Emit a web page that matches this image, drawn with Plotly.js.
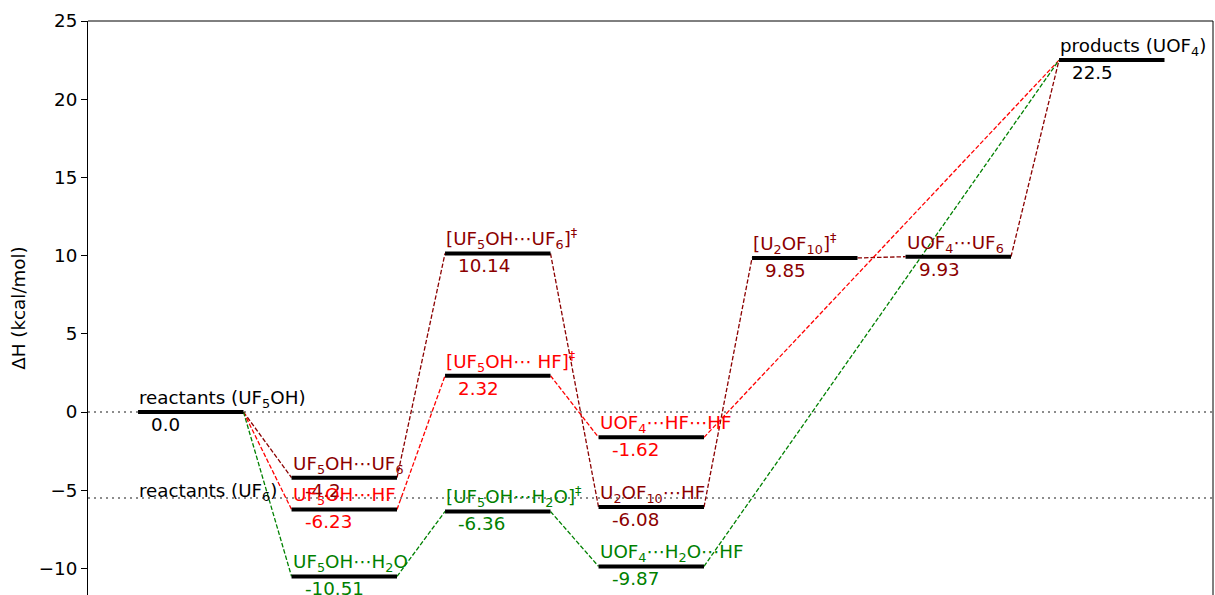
<!DOCTYPE html>
<html>
<head>
<meta charset="utf-8">
<script src="https://cdn.plot.ly/plotly-3.0.1.min.js"></script>
<style>html,body{margin:0;padding:0;background:#fff;}#chart{width:1215px;height:595px;}</style>
</head>
<body>
<div id="chart"></div>
<script>
// ---- data ----
const stateLabels = [
  'reactants (UF<sub>5</sub>OH)',
  'UF<sub>5</sub>OH⋯UF<sub>6</sub>',
  'UF<sub>5</sub>OH⋯HF',
  'UF<sub>5</sub>OH⋯H<sub>2</sub>O',
  '[UF<sub>5</sub>OH⋯UF<sub>6</sub>]<sup>‡</sup>',
  '[UF<sub>5</sub>OH⋯ HF]<sup>‡</sup>',
  '[UF<sub>5</sub>OH⋯H<sub>2</sub>O]<sup>‡</sup>',
  'UOF<sub>4</sub>⋯HF⋯HF',
  'U<sub>2</sub>OF<sub>10</sub>⋯HF',
  'UOF<sub>4</sub>⋯H<sub>2</sub>O⋯HF',
  '[U<sub>2</sub>OF<sub>10</sub>]<sup>‡</sup>',
  'UOF<sub>4</sub>⋯UF<sub>6</sub>',
  'products (UOF<sub>4</sub>)'
];
const stateValueText = ['0.0','-4.2','-6.23','-10.51','10.14','2.32','-6.36','-1.62','-6.08','-9.87','9.85','9.93','22.5'];
const stateEnergies = [0.0, -4.2, -6.23, -10.51, 10.14, 2.32, -6.36, -1.62, -6.08, -9.87, 9.85, 9.93, 22.5];
const stateLevels = [0, 1, 1, 1, 2, 2, 2, 3, 3, 3, 4, 5, 6];
const statePathway = ['ref','UF6','HF','H2O','UF6','HF','H2O','HF','UF6','H2O','UF6','UF6','ref'];

const linksUF6 = [[0,1],[1,4],[4,8],[8,10],[10,11],[11,12]];
const linksHF  = [[0,2],[2,5],[5,7],[7,12]];
const linksH2O = [[0,3],[3,6],[6,9],[9,12]];

const refLineValues = [0, -5.5];
const refExtraLabel = 'reactants (UF<sub>6</sub>)';
const refExtraValue = -5.5;

const yTickVals = [-10, -5, 0, 5, 10, 15, 20, 25];
const yTitle = 'ΔH (kcal/mol)';

// ---- styles ----
const pathColors = {ref: '#000000', UF6: '#8b0000', HF: '#ff0000', H2O: '#008000'};
const BAR_W = 0.687;
const X_RANGE = [-0.326, 7.003];
const FONT = 'DejaVu Sans, sans-serif';
const FS = 18.3;

const traces = [];
const annotations = [];

// reference dotted lines
refLineValues.forEach(v => {
  traces.push({x: X_RANGE, y: [v, v], mode: 'lines', hoverinfo: 'skip',
    line: {color: '#8c8c8c', width: 2, dash: '2px,4px'}, showlegend: false});
});

// connection dashed lines
function addLinks(links, key) {
  links.forEach(([a, b]) => {
    traces.push({
      x: [stateLevels[a] + BAR_W, stateLevels[b]],
      y: [stateEnergies[a], stateEnergies[b]],
      mode: 'lines', hoverinfo: 'skip', showlegend: false,
      line: {color: pathColors[key], width: 1.3, dash: '4.5px,2px'}
    });
  });
}
addLinks(linksUF6, 'UF6');
addLinks(linksHF, 'HF');
addLinks(linksH2O, 'H2O');

// level bars + labels
stateEnergies.forEach((e, i) => {
  const x0 = stateLevels[i];
  const col = pathColors[statePathway[i]];
  traces.push({x: [x0, x0 + BAR_W], y: [e, e], mode: 'lines', hoverinfo: 'skip', showlegend: false,
    line: {color: '#000000', width: 4}});
  annotations.push({x: x0, y: e, xref: 'x', yref: 'y', text: stateLabels[i], showarrow: false,
    xanchor: 'left', yanchor: 'bottom', xshift: -1, yshift: -1, font: {family: FONT, size: FS, color: col}});
  annotations.push({x: x0, y: e, xref: 'x', yref: 'y', text: stateValueText[i], showarrow: false,
    xanchor: 'left', yanchor: 'top', xshift: 11, yshift: 0, font: {family: FONT, size: FS, color: col}});
});

annotations.push({x: 0, y: refExtraValue, xref: 'x', yref: 'y', text: refExtraLabel, showarrow: false,
  xanchor: 'left', yanchor: 'bottom', xshift: -1, yshift: -8, font: {family: FONT, size: FS, color: '#000000'}});

const layout = {
  width: 1215, height: 595,
  margin: {l: 88, r: 2, t: 21, b: 0},
  paper_bgcolor: '#ffffff', plot_bgcolor: '#ffffff',
  font: {family: FONT, size: FS, color: '#000000'},
  showlegend: false,
  xaxis: {range: X_RANGE, visible: false, fixedrange: true},
  yaxis: {range: [-11.7, 25], tickvals: yTickVals, ticks: 'outside', ticklen: 6, tickwidth: 1,
    tickcolor: '#000', showline: true, linecolor: '#000', linewidth: 1, showgrid: false, zeroline: false,
    tickfont: {family: FONT, size: FS, color: '#000'},
    title: {text: yTitle, font: {family: FONT, size: FS, color: '#000'}, standoff: 8}},
  shapes: [
    {type: 'line', xref: 'paper', yref: 'paper', x0: 0, x1: 1, y0: 1, y1: 1, line: {color: '#000', width: 1}},
    {type: 'line', xref: 'paper', yref: 'paper', x0: 1, x1: 1, y0: 0, y1: 1, line: {color: '#000', width: 1}}
  ],
  annotations: annotations
};

Plotly.newPlot('chart', traces, layout, {displayModeBar: false, staticPlot: true});
</script>
</body>
</html>
